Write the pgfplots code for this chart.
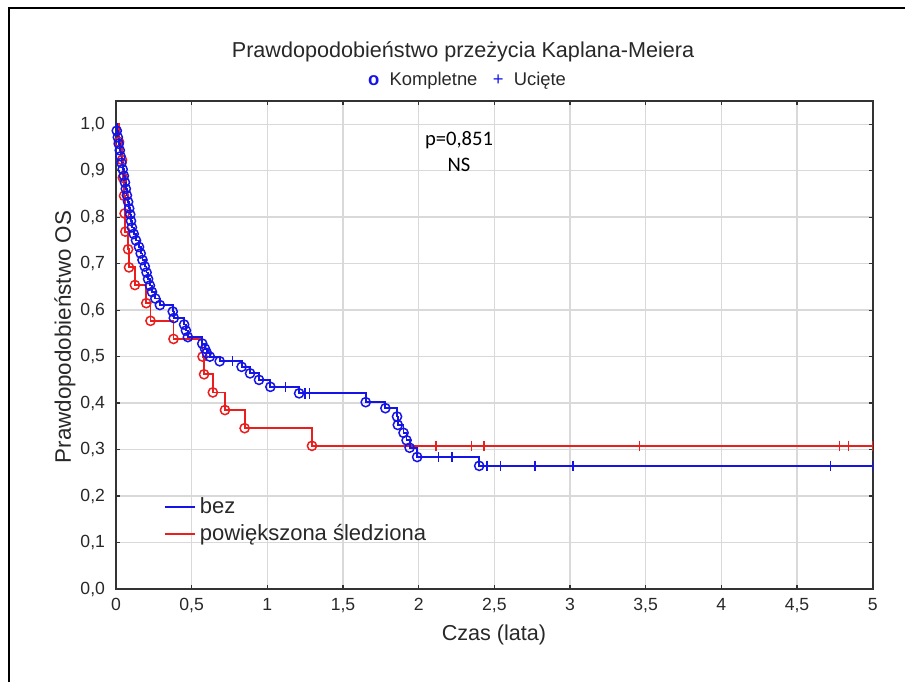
\documentclass[border=0pt]{standalone}
\usepackage{pgfplots}
\pgfplotsset{compat=1.18}
\usepackage{fontspec}
\setmainfont{Liberation Sans}
\newfontfamily\calibri{Carlito}
\definecolor{kmblue}{RGB}{20,20,230}
\definecolor{kmred}{RGB}{235,30,30}
\definecolor{txt}{RGB}{40,40,40}

\pgfplotstableread{
t s
0 1.000
0.005 0.986
0.012 0.972
0.018 0.958
0.025 0.944
0.030 0.931
0.036 0.917
0.044 0.903
0.052 0.889
0.059 0.875
0.065 0.861
0.072 0.847
0.080 0.833
0.087 0.819
0.094 0.806
0.099 0.792
0.105 0.778
0.117 0.764
0.132 0.750
0.152 0.736
0.163 0.722
0.175 0.708
0.190 0.694
0.202 0.681
0.212 0.667
0.224 0.653
0.238 0.639
0.260 0.625
0.290 0.611
0.375 0.597
0.382 0.583
0.450 0.569
0.462 0.556
0.475 0.542
0.570 0.528
0.588 0.517
0.600 0.508
0.620 0.500
0.685 0.490
0.830 0.478
0.886 0.464
0.945 0.450
1.020 0.435
1.210 0.421
1.650 0.402
1.780 0.389
1.857 0.371
1.862 0.353
1.900 0.336
1.920 0.320
1.940 0.304
1.990 0.284
2.400 0.265
5.000 0.265
}\bezline

\pgfplotstableread{
t s
0.005 0.986
0.012 0.972
0.018 0.958
0.025 0.944
0.030 0.931
0.036 0.917
0.044 0.903
0.052 0.889
0.059 0.875
0.065 0.861
0.072 0.847
0.080 0.833
0.087 0.819
0.094 0.806
0.099 0.792
0.105 0.778
0.117 0.764
0.132 0.750
0.152 0.736
0.163 0.722
0.175 0.708
0.190 0.694
0.202 0.681
0.212 0.667
0.224 0.653
0.238 0.639
0.260 0.625
0.290 0.611
0.375 0.597
0.382 0.583
0.450 0.569
0.462 0.556
0.475 0.542
0.570 0.528
0.588 0.517
0.600 0.508
0.620 0.500
0.685 0.490
0.830 0.478
0.886 0.464
0.945 0.450
1.020 0.435
1.210 0.421
1.650 0.402
1.780 0.389
1.857 0.371
1.862 0.353
1.900 0.336
1.920 0.320
1.940 0.304
1.990 0.284
2.400 0.265
}\bezevents

\pgfplotstableread{
t s
0.77 0.490
1.12 0.435
1.25 0.421
1.28 0.421
2.13 0.284
2.22 0.284
2.45 0.265
2.54 0.265
2.77 0.265
3.02 0.265
4.72 0.265
5.00 0.265
}\bezcens

\pgfplotstableread{
t s
0 1.000
0.020 0.962
0.040 0.923
0.045 0.885
0.053 0.846
0.057 0.808
0.062 0.769
0.080 0.731
0.086 0.692
0.125 0.654
0.200 0.615
0.228 0.577
0.380 0.538
0.572 0.500
0.582 0.462
0.640 0.423
0.720 0.385
0.850 0.346
1.295 0.308
5.000 0.308
}\redline

\pgfplotstableread{
t s
0.020 0.962
0.040 0.923
0.045 0.885
0.053 0.846
0.057 0.808
0.062 0.769
0.080 0.731
0.086 0.692
0.125 0.654
0.200 0.615
0.228 0.577
0.380 0.538
0.572 0.500
0.582 0.462
0.640 0.423
0.720 0.385
0.850 0.346
1.295 0.308
}\redevents

\pgfplotstableread{
t s
2.115 0.308
2.35 0.308
2.43 0.308
3.46 0.308
4.78 0.308
4.84 0.308
5.00 0.308
}\redcens

\begin{document}
\begin{tikzpicture}
\useasboundingbox (0,0) rectangle (452.5pt,341pt);
\draw[line width=1pt] (4.5pt,0) -- (4.5pt,337pt) -- (452.5pt,337pt);
\begin{axis}[
  scale only axis, width=378.35pt, height=244pt,
  at={(58pt,46.5pt)}, anchor=south west,
  xmin=0, xmax=5, ymin=0, ymax=1.05,
  xtick={0,0.5,1,1.5,2,2.5,3,3.5,4,4.5,5},
  ytick={0,0.1,0.2,0.3,0.4,0.5,0.6,0.7,0.8,0.9,1.0},
  grid=major, major grid style={black!15, line width=0.7pt},
  tick align=inside, major tick length=2pt,
  axis line style={black!80, line width=0.8pt},
  tick style={black!80, line width=0.6pt},
  /pgf/number format/assume math mode=true,
  xticklabel style={/pgf/number format/use comma, font=\fontsize{8.8}{10}\selectfont, text=txt, yshift=-1pt},
  yticklabel style={/pgf/number format/.cd, use comma, fixed, fixed zerofill, precision=1, /tikz/.cd, font=\fontsize{8.8}{10}\selectfont, text=txt, xshift=-2pt},
  legend style={at={(0.055,0.205)}, anchor=north west, draw=none, fill=none,
    font=\fontsize{11}{13}\selectfont, text=txt, row sep=0pt},
  legend cell align=left,
  legend image code/.code={\draw[#1] (0pt,0pt) -- (15pt,0pt);},
]
\addlegendimage{kmblue, line width=0.9pt}
\addlegendentry{bez}
\addlegendimage{kmred, line width=0.9pt}
\addlegendentry{powiększona śledziona}

\addplot[forget plot, const plot, kmred, line width=0.9pt] table {\redline};
\addplot[forget plot, const plot, kmblue, line width=0.9pt] table {\bezline};
\addplot[forget plot, only marks, mark=o, mark size=2.3pt, kmred, line width=0.75pt] table {\redevents};
\addplot[forget plot, only marks, mark=|, mark size=2.6pt, kmred, line width=0.75pt] table {\redcens};
\addplot[forget plot, only marks, mark=o, mark size=2.3pt, kmblue, line width=0.75pt] table {\bezevents};
\addplot[forget plot, only marks, mark=|, mark size=2.6pt, kmblue, line width=0.75pt] table {\bezcens};
\end{axis}
\node[text=txt, font=\fontsize{10.8}{12}\selectfont] at (231.5pt,315pt) {Prawdopodobieństwo przeżycia Kaplana-Meiera};
\node[text=txt, font=\fontsize{9.2}{10}\selectfont] at (233.5pt,300.5pt) {\textcolor{kmblue}{\textbf{o}}\ \ Kompletne\ \ \ \textcolor{kmblue}{+}\ \ Ucięte};
\node[font=\calibri\fontsize{10.3}{12}\selectfont] at (229.5pt,271pt) {p=0,851};
\node[font=\calibri\fontsize{10.3}{12}\selectfont] at (229.5pt,258.5pt) {NS};
\node[text=txt, font=\fontsize{10.8}{12}\selectfont] at (247pt,23.5pt) {Czas (lata)};
\node[text=txt, font=\fontsize{11.2}{12}\selectfont, rotate=90] at (32.5pt,172.5pt) {Prawdopodobieństwo OS};
\end{tikzpicture}
\end{document}
